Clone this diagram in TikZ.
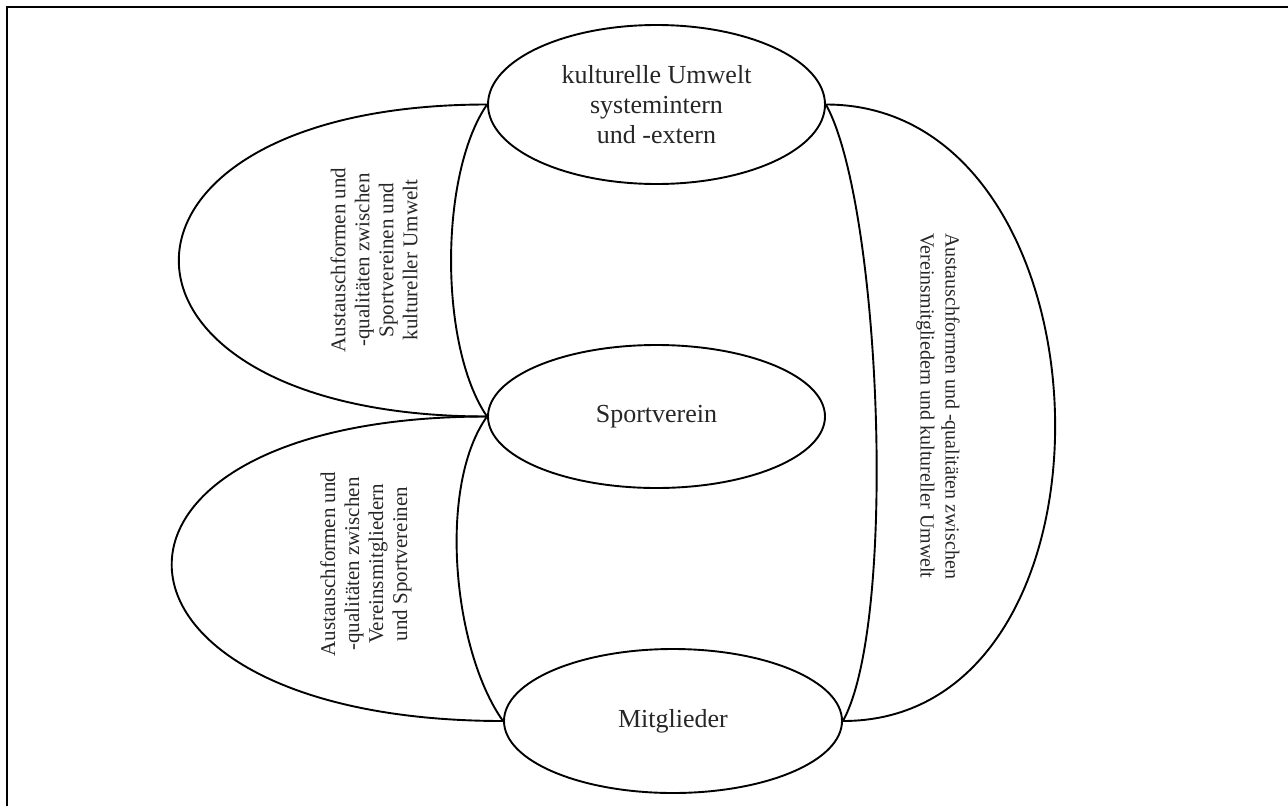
\documentclass[tikz,border=0pt]{standalone}
\usepackage{fontspec}
\setmainfont{Liberation Serif}
\usepackage{xcolor}
\usetikzlibrary{shapes.geometric}

\begin{document}
\begin{tikzpicture}[x=1pt,y=-1pt,line width=1.9pt,
	feld/.style={draw,ellipse,inner sep=0pt,align=center,text=black!85,font=\fontsize{26}{30}\selectfont},
	schrift/.style={align=center,text=black!85,font=\fontsize{21}{24}\selectfont}]

	\useasboundingbox (0,0) rectangle (1288,806);
	\draw[line width=2.2pt] (7,806) -- (7,7) -- (1288,7);

	% (Ellipsen)
	\node[feld,minimum width=337,minimum height=159] (umwelt) at (656.5,104.5) {kulturelle Umwelt\\systemintern\\und -extern};
	\node[feld,minimum width=337,minimum height=143] (verein) at (656.5,416.5) {Sportverein};
	\node[feld,minimum width=338,minimum height=144] (mitglieder) at (673,721) {Mitglieder};

	% (links oben)
	\draw (umwelt.west) .. controls +(-411,0) and +(-411,0) .. (verein.west);
	\draw (umwelt.west) .. controls +(-48,70) and +(-48,-70) .. (verein.west);
	\node[schrift,rotate=90] (austauschA) at (374,260) {Austauschformen und\\-qualitäten zwischen\\Sportvereinen und\\kultureller Umwelt};

	% (links unten)
	\draw (verein.west) .. controls +(-431,0) and +(-431,0) .. (mitglieder.west);
	\draw (verein.west) .. controls +(-50,70) and +(-50,-70) .. (mitglieder.west);
	\node[schrift,rotate=90] (austauschB) at (366,564) {Austauschformen und\\-qualitäten zwischen\\Vereinsmitgliedern\\und Sportvereinen};

	% (rechts)
	\draw (umwelt.east) .. controls +(294,0) and +(294,0) .. (mitglieder.east);
	\draw (umwelt.east) .. controls +(55,100) and +(55,-100) .. (mitglieder.east);
	\node[schrift,rotate=-90,font=\fontsize{20}{25}\selectfont] (austauschC) at (938,406) {Austauschformen und -qualitäten zwischen\\Vereinsmitgliedern und kultureller Umwelt};

\end{tikzpicture}
\end{document}
